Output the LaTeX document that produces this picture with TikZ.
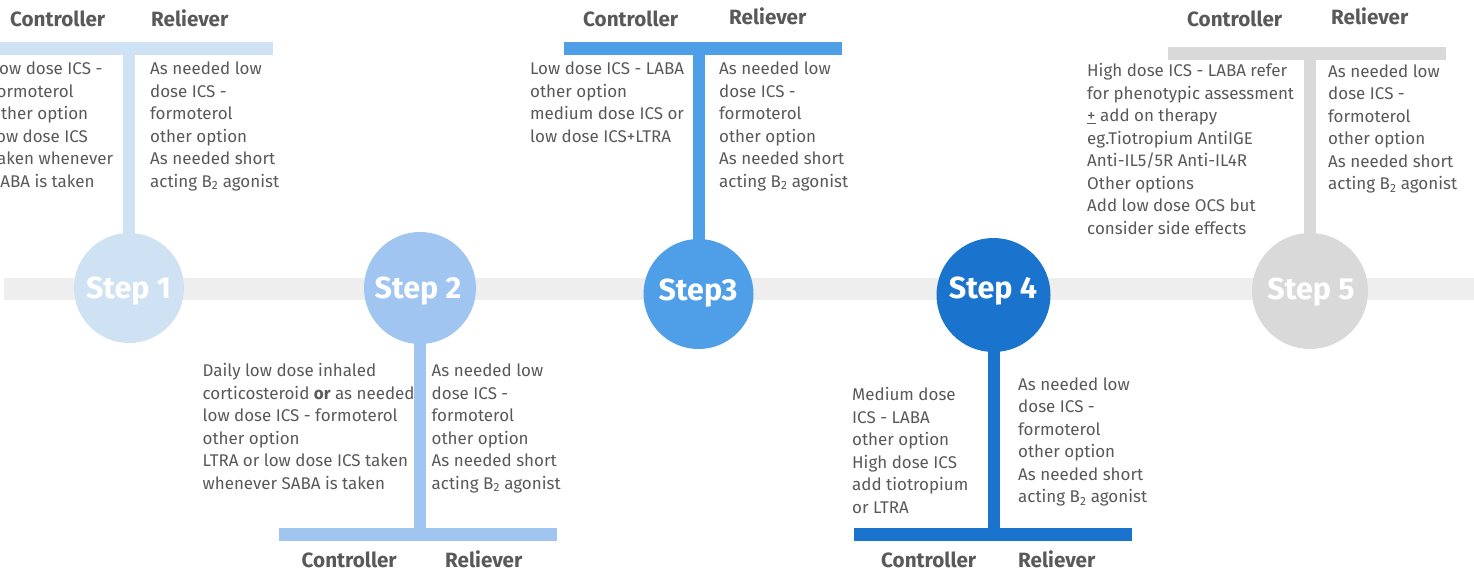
\documentclass[tikz,border=0pt]{standalone}
\usepackage{fontspec}
\setmainfont{Fira Sans}
\definecolor{cA}{HTML}{CFE2F3}
\definecolor{cB}{HTML}{9FC5F0}
\definecolor{cC}{HTML}{4F9FE8}
\definecolor{cD}{HTML}{1A73CC}
\definecolor{cE}{HTML}{D9D9D9}
\definecolor{bandc}{HTML}{EEEEEE}
\definecolor{tg}{HTML}{595959}
\newlength\mylen
\AtBeginDocument{%
\settowidth\mylen{\normalfont\fontsize{10pt}{12pt}\selectfont As needed short}\pgfmathsetmacro\bs{1250/\mylen}%
\settowidth\mylen{\normalfont\fontsize{10pt}{12pt}\selectfont\bfseries Controller}\pgfmathsetmacro\hs{950/\mylen}%
\settowidth\mylen{\normalfont\fontsize{10pt}{12pt}\selectfont\bfseries Step 1}\pgfmathsetmacro\ss{850/\mylen}%
}
\newcommand\col[1]{\begin{tabular}[t]{@{}l@{}}#1\end{tabular}}
\newcommand\relieftext{\col{As needed low\\ dose ICS -\\ formoterol\\ other option\\ As needed short\\ acting B\textsubscript{2} agonist}}
\tikzset{
  stepcircle/.style={circle, minimum size=110pt, inner sep=0pt},
  steplabel/.style={inner sep=0pt, text depth=0pt, text=white, font=\fontsize{\ss pt}{\ss pt}\selectfont\bfseries},
  barbox/.style={rectangle, inner sep=0pt, minimum width=278pt, minimum height=13pt},
  stemline/.style={line width=12pt},
  txt/.style={anchor=base west, inner sep=0pt, text=tg, font=\fontsize{\bs pt}{22.5pt}\selectfont},
  head/.style={anchor=base west, inner sep=0pt, text=tg, font=\fontsize{\hs pt}{\hs pt}\selectfont\bfseries},
}
\begin{document}
\begin{tikzpicture}[x=1pt,y=-1pt]
\clip (0,0) rectangle (1474,570);
\fill[white] (0,0) rectangle (1474,570);
% band
\fill[bandc] (4,278) rectangle (1474,300);
% circles positions
\coordinate (p1) at (129,288);
\coordinate (p2) at (420,288);
\coordinate (p3) at (698.5,294);
\coordinate (p4) at (993.5,295);
\coordinate (p5) at (1310,291);
% bars
\node[barbox, fill=cA, minimum width=273pt] (b1) at (136.5,48.5) {};
\node[barbox, fill=cB] (b2) at (418,534.5) {};
\node[barbox, fill=cC] (b3) at (703,48.5) {};
\node[barbox, fill=cD] (b4) at (993,534.5) {};
\node[barbox, fill=cE] (b5) at (1307,53.5) {};
% stems
\draw[stemline, cA] (p1) -- (p1 |- b1.south);
\draw[stemline, cB] (p2) -- (p2 |- b2.north);
\draw[stemline, cC] (p3) -- (p3 |- b3.south);
\draw[stemline, cD] (p4) -- (p4 |- b4.north);
\draw[stemline, cE] (p5) -- (p5 |- b5.south);
% circles
\node[stepcircle, fill=cA] (s1) at (p1) {};
\node[stepcircle, fill=cB, minimum size=112pt] (s2) at (p2) {};
\node[stepcircle, fill=cC] (s3) at (p3) {};
\node[stepcircle, fill=cD, minimum size=114pt] (s4) at (p4) {};
\node[stepcircle, fill=cE, minimum size=116pt] (s5) at (p5) {};
\node[steplabel] (l1) at (128.5,288) {Step 1};
\node[steplabel] (l2) at (418,288) {Step 2};
\node[steplabel] (l3) at (698,290) {Step3};
\node[steplabel] (l4) at (993,288) {Step 4};
\node[steplabel] (l5) at (1311,288.5) {Step 5};
% headings
\node[head] (h1c) at (10,26.5) {Controller};
\node[head] (h1r) at (151,26) {Reliever};
\node[head] (h2c) at (301.5,567.5) {Controller};
\node[head] (h2r) at (445,567.5) {Reliever};
\node[head] (h3c) at (583,26.5) {Controller};
\node[head] (h3r) at (729,24.3) {Reliever};
\node[head] (h4c) at (881,567.5) {Controller};
\node[head] (h4r) at (1018,567.5) {Reliever};
\node[head] (h5c) at (1187,26.5) {Controller};
\node[head] (h5r) at (1331,24) {Reliever};
% texts
\node[txt] (t1c) at (-9,74.5) {\col{Low dose ICS -\\ formoterol\\ other option\\ low dose ICS\\ taken whenever\\ SABA is taken}};
\node[txt] (t1r) at (150,74.5) {\relieftext};
\node[txt] (t2c) at (202.5,376.7) {\col{Daily low dose inhaled\\ corticosteroid \textbf{or} as needed\\ low dose ICS - formoterol\\ other option\\ LTRA or low dose ICS taken\\ whenever SABA is taken}};
\node[txt] (t2r) at (431.5,376.7) {\relieftext};
\node[txt] (t3c) at (530,74.5) {\col{Low dose ICS - LABA\\ other option\\ medium dose ICS or\\ low dose ICS+LTRA}};
\node[txt] (t3r) at (719,74.5) {\relieftext};
\node[txt] (t4c) at (852,400.5) {\col{Medium dose\\ ICS - LABA\\ other option\\ High dose ICS\\ add tiotropium\\ or LTRA}};
\node[txt] (t4r) at (1018,390) {\relieftext};
\node[txt] (t5c) at (1087,76.5) {\col{High dose ICS - LABA refer\\ for phenotypic assessment\\ \underline{+} add on therapy\\ eg.Tiotropium AntiIGE\\ Anti-IL5/5R Anti-IL4R\\ Other options\\ Add low dose OCS but\\ consider side effects}};
\node[txt] (t5r) at (1328,77) {\relieftext};
\end{tikzpicture}
\end{document}
